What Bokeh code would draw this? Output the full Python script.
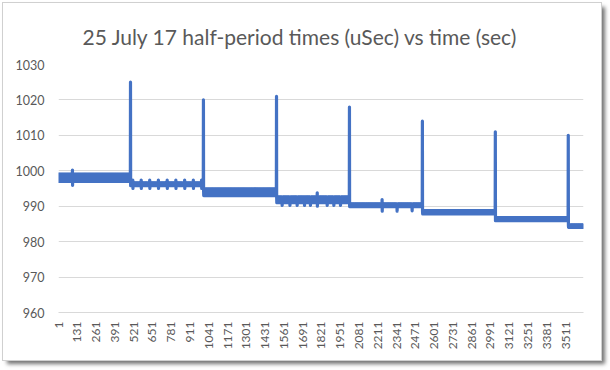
import numpy as np
from bokeh.plotting import figure
from bokeh.models import FixedTicker, Range1d, ColumnDataSource
from bokeh.embed import file_html
from bokeh.resources import INLINE

TITLE = "25 July 17 half-period times (uSec) vs time (sec)"

# ---- data ----
N_POINTS = 3635
seg_start = [1, 500, 1005, 1511, 2016, 2521, 3026, 3531]
seg_low = [997.0, 995.8, 993.0, 991.0, 989.9, 987.8, 985.9, 984.0]
seg_high = [999.0, 996.5, 994.8, 992.6, 990.6, 988.7, 986.8, 984.6]
spike_index = [499, 1004, 1510, 2015, 2520, 3025, 3530]
spike_value = [1025.0, 1020.0, 1021.0, 1018.0, 1014.0, 1011.0, 1010.0]
glitch_index = [97, 98,
                515, 516, 573, 574, 632, 633, 692, 693, 753, 754,
                813, 814, 874, 875, 934, 935, 991, 992,
                1549, 1603, 1653, 1704, 1745, 1792, 1793, 1861, 1907, 1953,
                2241, 2242, 2345, 2449]
glitch_value = [1000.2, 995.9,
                997.4, 995.0, 997.4, 995.0, 997.4, 995.0, 997.4, 995.0, 997.4, 995.0,
                997.4, 995.0, 997.4, 995.0, 997.4, 995.0, 997.4, 995.0,
                990.2, 990.2, 990.2, 990.2, 990.2, 993.8, 990.0, 990.2, 990.2, 990.2,
                991.9, 988.6, 988.6, 988.7]
x_tick_labels = ["1", "131", "261", "391", "521", "651", "781", "911", "1041",
                 "1171", "1301", "1431", "1561", "1691", "1821", "1951", "2081",
                 "2211", "2341", "2471", "2601", "2731", "2861", "2991", "3121",
                 "3251", "3381", "3511"]
y_ticks = [960, 970, 980, 990, 1000, 1010, 1020, 1030]

# ---- expand the read segments into the series ----
idx = np.arange(1, N_POINTS + 1)
vals = np.zeros(N_POINTS)
bounds = seg_start + [N_POINTS + 1]
for k in range(len(seg_start)):
    a, b = bounds[k], bounds[k + 1]
    for i in range(a, b):
        vals[i - 1] = seg_low[k] if (i % 2 == 0) else seg_high[k]
for i, v in zip(spike_index, spike_value):
    vals[i - 1] = v
for i, v in zip(glitch_index, glitch_value):
    vals[i - 1] = v

src = ColumnDataSource(dict(x=idx, y=vals))

p = figure(width=598, height=357, output_backend="svg", toolbar_location=None,
           x_range=Range1d(0.5, N_POINTS + 0.5), y_range=Range1d(960, 1030),
           min_border_left=55, min_border_right=18, min_border_top=61,
           min_border_bottom=48)
p.styles = {"position": "relative", "left": "3px", "top": "3px",
            "box-shadow": "0 0 0 1px #d0d0d0, 4px 4px 4px rgba(0,0,0,0.55)"}
p.background_fill_color = "white"
p.border_fill_color = "white"
p.outline_line_color = None

p.title.text = TITLE
p.title.text_font = "Lato"
p.title.text_font_size = "21px"
p.title.text_font_style = "normal"
p.title.text_color = "#595959"
p.title.align = "left"
p.title.vertical_align = "middle"
p.title.offset = 24
p.title.standoff = 30

p.line("x", "y", source=src, line_color="#4472C4", line_width=3.2,
       line_join="round", line_cap="round")

xt = [int(t) for t in x_tick_labels]
p.xaxis.ticker = FixedTicker(ticks=xt)
p.xaxis.major_label_overrides = {int(t): t for t in x_tick_labels}
p.xaxis.major_label_orientation = np.pi / 2
p.xaxis.axis_line_color = "#d9d9d9"
p.xaxis.major_tick_line_color = None
p.xaxis.minor_tick_line_color = None
p.xaxis.major_tick_out = 0
p.xaxis.major_tick_in = 0
p.xaxis.major_label_standoff = 9
p.xaxis.major_label_text_font = "Lato"
p.xaxis.major_label_text_font_size = "12px"
p.xaxis.major_label_text_color = "#595959"

p.yaxis.ticker = FixedTicker(ticks=y_ticks)
p.yaxis.axis_line_color = None
p.yaxis.major_tick_line_color = None
p.yaxis.minor_tick_line_color = None
p.yaxis.major_tick_out = 0
p.yaxis.major_tick_in = 0
p.yaxis.major_label_standoff = 14
p.yaxis.major_label_text_font = "Lato"
p.yaxis.major_label_text_font_size = "12.5px"
p.yaxis.major_label_text_color = "#595959"

p.xgrid.grid_line_color = None
p.ygrid.ticker = FixedTicker(ticks=y_ticks)
p.ygrid.grid_line_color = "#d9d9d9"
p.ygrid.grid_line_width = 1

open("out.html", "w").write(file_html(p, INLINE))
